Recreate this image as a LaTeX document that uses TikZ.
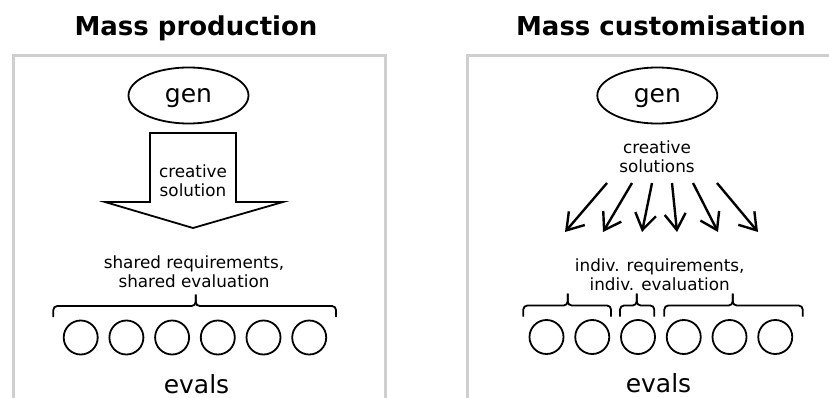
\documentclass[tikz,border=0pt]{standalone}
\usepackage{fontspec}
\setmainfont{DejaVu Sans}
\usetikzlibrary{shapes.geometric,arrows.meta}
\begin{document}
\begin{tikzpicture}[x=1pt,y=-1pt,
  frame/.style={draw=black!19, line width=3pt},
  title/.style={font=\fontsize{26}{30}\selectfont\bfseries, anchor=base, inner sep=0pt},
  genbox/.style={draw, ellipse, line width=1.8pt, minimum width=120pt, minimum height=56pt, inner sep=0pt, font=\fontsize{25}{30}\selectfont, text height=13.7pt, text depth=0pt},
  lbl/.style={align=center, font=\fontsize{16.8}{19.2}\selectfont, inner sep=0pt},
  evalc/.style={draw, circle, line width=1.8pt, minimum size=34pt, inner sep=0pt},
  evtxt/.style={font=\fontsize{25}{30}\selectfont, anchor=base, inner sep=0pt},
  bracket/.style={line width=1.8pt, rounded corners=4pt},
  fan/.style={line width=2.4pt, -{Straight Barb[length=16pt,width=21pt]}},
  blockarrow/.style={draw, line width=1.8pt, line join=miter}
]
\useasboundingbox (0,0) rectangle (829,398);
\fill[white] (0,0) rectangle (829,398);
\begin{scope}
  \clip (0,0) rectangle (829,398);
  \draw[frame] (13,410) -- (13,56) -- (385,56) -- (385,410);
  \draw[frame] (467,410) -- (467,56) -- (840,56);
\end{scope}

% titles
\node[title] (t1) at (196,36) {Mass production};
\node[title] (t2) at (661,36) {Mass customisation};

% ---- left panel ----
\node[genbox] (gen1) at (188.5,95.5) {gen};
\draw[blockarrow] (150,133) -- (236,133) -- (236,202) -- (283,202) -- (193,228) -- (105,202) -- (150,202) -- cycle;
\node[lbl] (cs1) at (193,180.4) {creative\\solution};
\node[lbl] (req1) at (194,271.6) {shared requirements,\\shared evaluation};
\coordinate (b1tip) at (195.7,306);
\draw[bracket] (53.3,317) |- (b1tip) -- (195.7,294.5);
\draw[bracket] (336,317) |- (b1tip) -- (195.7,294.5);
\foreach \i in {0,...,5} \node[evalc] (l\i) at ({80.7+45.7*\i},337.5) {};
\node[evtxt] (ev1) at (196.5,393) {evals};

% ---- right panel ----
\node[genbox] (gen2) at (657.3,95.5) {gen};
\node[lbl] (cs2) at (657,157.1) {creative\\solutions};
\foreach \s/\t [count=\k] in {607/565, 632/603, 652/642, 672/677, 693/718, 717/758} {
  \coordinate (fs\k) at (\s,183);
  \coordinate (ft\k) at (\t,232);
  \draw[fan] (fs\k) -- (ft\k);
}
\node[lbl] (req2) at (659.7,274.8) {indiv. requirements,\\indiv. evaluation};
\foreach \a/\m/\b [count=\k] in {523.3/567.7/611, 620/636.7/654.3, 664.3/732.7/802.7} {
  \coordinate (rb\k) at (\m,305.5);
  \draw[bracket] (\a,316.5) |- (rb\k) -- (\m,293.5);
  \draw[bracket] (\b,316.5) |- (rb\k) -- (\m,293.5);
}
\foreach \i in {0,...,5} \node[evalc] (r\i) at ({546.5+45.75*\i},337) {};
\node[evtxt] (ev2) at (658.5,392) {evals};
\end{tikzpicture}
\end{document}
